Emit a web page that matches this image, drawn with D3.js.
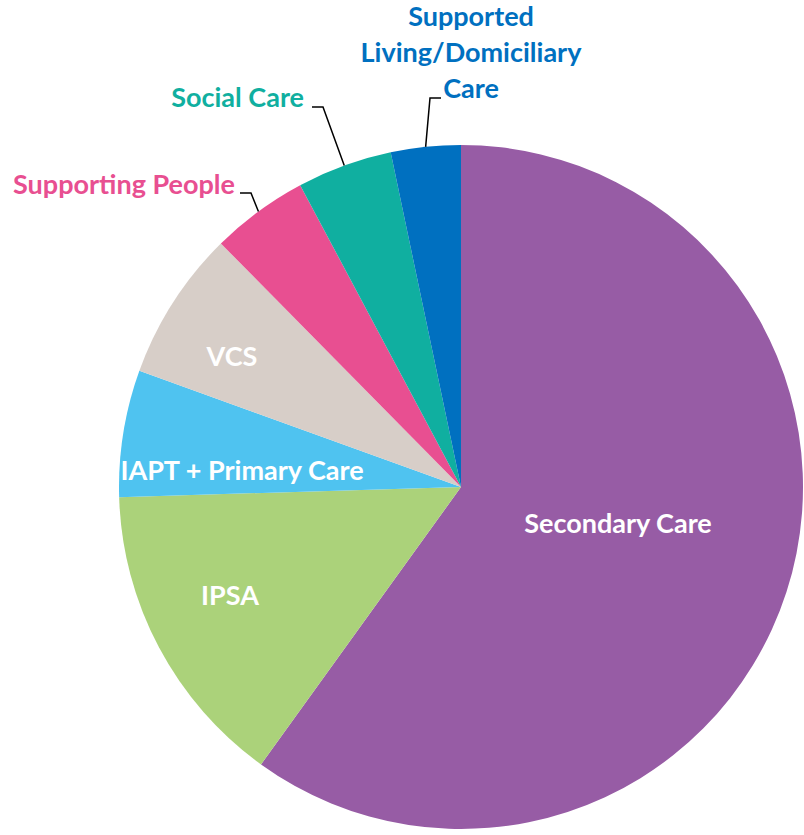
<!DOCTYPE html>
<html>
<head>
<meta charset="utf-8">
<script src="https://cdn.jsdelivr.net/npm/d3@7"></script>
<style>
  body { margin: 0; background: #fff; }
  text { font-family: Lato, "Open Sans", sans-serif; font-weight: bold; }
</style>
</head>
<body>
<div id="chart"></div>
<script>
// slices, clockwise from 12 o'clock
const categories = ["Secondary Care", "IPSA", "IAPT + Primary Care", "VCS", "Supporting People", "Social Care", "Supported Living/Domiciliary Care"];
const shares = [60.0, 14.6, 6.0, 7.1, 4.6, 4.5, 3.3];
const colors = ["#975CA5", "#ABD27A", "#4FC3F0", "#D7CEC8", "#E84F91", "#10AFA0", "#0070C0"];

const width = 804, height = 835;
const cx = 461, cy = 487, radius = 342;
const fontSize = 27;

const svg = d3.select("#chart").append("svg")
    .attr("width", width)
    .attr("height", height);

const g = svg.append("g").attr("transform", `translate(${cx},${cy})`);

const pie = d3.pie().sort(null).value(d => d.v);
const arcs = pie(categories.map((c, i) => ({ name: c, v: shares[i], color: colors[i] })));
const arc = d3.arc().innerRadius(0).outerRadius(radius);

g.selectAll("path")
    .data(arcs)
    .join("path")
    .attr("d", arc)
    .attr("fill", d => d.data.color);

// inside labels, placed relative to the pie centre (px)
const inside = {
    "Secondary Care": [157, 37],
    "IPSA": [-231, 109],
    "IAPT + Primary Care": [-219, -16],
    "VCS": [-229, -130]
};
g.selectAll("text.inner")
    .data(arcs.filter(d => inside[d.data.name]))
    .join("text")
    .attr("class", "inner")
    .attr("x", d => inside[d.data.name][0])
    .attr("y", d => inside[d.data.name][1])
    .attr("dy", "0.35em")
    .attr("text-anchor", "middle")
    .attr("fill", "#fff")
    .attr("font-size", fontSize)
    .text(d => d.data.name);

// outside labels with leader lines
const outer = {
    "Supporting People": { lines: ["Supporting People"], tx: -226, ty: -302, knee: [-221, -294], bend: [-210, -294] },
    "Social Care": { lines: ["Social Care"], tx: -157, ty: -389, knee: [-149, -380], bend: [-138, -380] },
    "Supported Living/Domiciliary Care": { lines: ["Supported", "Living/Domiciliary", "Care"], tx: 10, ty: -470, knee: [-20, -389], bend: [-31, -389] }
};
const outArcs = arcs.filter(d => outer[d.data.name]);
const edge = d3.arc().innerRadius(radius).outerRadius(radius);

g.selectAll("polyline")
    .data(outArcs)
    .join("polyline")
    .attr("fill", "none")
    .attr("stroke", "#000")
    .attr("stroke-width", 1.5)
    .attr("points", d => {
        const o = outer[d.data.name];
        return [edge.centroid(d), o.bend, o.knee];
    });

outArcs.forEach(d => {
    const o = outer[d.data.name];
    const t = g.append("text")
        .attr("x", o.tx)
        .attr("y", o.ty)
        .attr("text-anchor", o.lines.length > 1 ? "middle" : "end")
        .attr("fill", d.data.color)
        .attr("font-size", fontSize);
    o.lines.forEach((l, i) => {
        t.append("tspan").attr("x", o.tx).attr("dy", i === 0 ? "0.35em" : 36).text(l);
    });
});
</script>
</body>
</html>
